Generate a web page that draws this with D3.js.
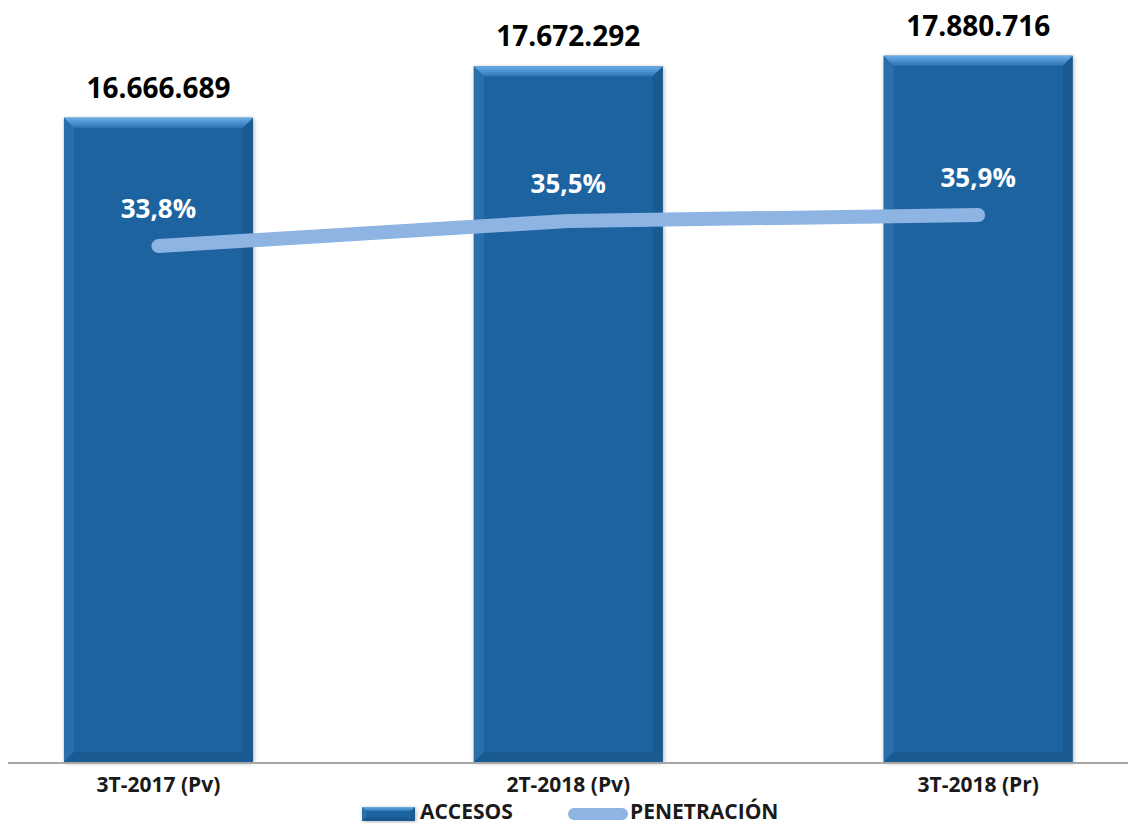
<!DOCTYPE html>
<html>
<head>
<meta charset="utf-8">
<script src="https://cdn.jsdelivr.net/npm/d3@7"></script>
<style>
    body { margin: 0; background: #ffffff; }
    svg { display: block; font-family: 'Open Sans', sans-serif; font-weight: 700; }
</style>
</head>
<body>
<svg width="1128" height="825"></svg>
<script>
const CATEGORIES = ['3T-2017 (Pv)', '2T-2018 (Pv)', '3T-2018 (Pr)'];
const ACCESOS = [16666689, 17672292, 17880716];
const PENETRACION = [33.8, 35.5, 35.9];
const ACCESOS_LABELS = ['16.666.689', '17.672.292', '17.880.716'];
const PENETRACION_LABELS = ['33,8%', '35,5%', '35,9%'];
const SERIES_NAMES = ['ACCESOS', 'PENETRACIÓN'];

const BASELINE = 762;
const BEVEL = 10;

const svg = d3.select('svg');

const defs = svg.append('defs');
const topGrad = defs.append('linearGradient')
    .attr('id', 'bevelTop')
    .attr('x1', 0).attr('y1', 0).attr('x2', 0).attr('y2', 1);
topGrad.append('stop').attr('offset', '0%').attr('stop-color', '#6aaee6');
topGrad.append('stop').attr('offset', '100%').attr('stop-color', '#2c76b6');

const shadow = defs.append('filter')
    .attr('id', 'shadow')
    .attr('x', '-10%').attr('y', '-10%').attr('width', '120%').attr('height', '120%');
shadow.append('feDropShadow')
    .attr('dx', 1).attr('dy', 1).attr('stdDeviation', 2)
    .attr('flood-color', '#000').attr('flood-opacity', 0.3);

const xScale = d3.scaleBand()
    .domain(CATEGORIES)
    .range([-46.7, 1183.3])
    .paddingInner(0.539)
    .paddingOuter(0.27);

const yScale = d3.scaleLinear().domain([4050000, 18970000]).range([BASELINE, 0]);
const y2Scale = d3.scaleLinear().domain([-1.16, 50.47]).range([BASELINE, 0]);

const data = CATEGORIES.map((c, i) => ({
    cat: c,
    value: ACCESOS[i],
    pct: PENETRACION[i],
    label: ACCESOS_LABELS[i],
    pctLabel: PENETRACION_LABELS[i]
}));

function bevelBar(g, x, y, w, h, b) {
    g.append('rect')
        .attr('x', x).attr('y', y).attr('width', w).attr('height', h)
        .attr('fill', '#1f64a0')
        .attr('filter', 'url(#shadow)');
    // left edge
    g.append('polygon')
        .attr('points', [[x, y], [x + b, y + b], [x + b, y + h - b], [x, y + h]].join(' '))
        .attr('fill', '#2a6fac');
    // right edge
    g.append('polygon')
        .attr('points', [[x + w, y], [x + w - b, y + b], [x + w - b, y + h - b], [x + w, y + h]].join(' '))
        .attr('fill', '#1b5a90');
    // bottom edge
    g.append('polygon')
        .attr('points', [[x, y + h], [x + b, y + h - b], [x + w - b, y + h - b], [x + w, y + h]].join(' '))
        .attr('fill', '#1a5a92');
    // top edge
    g.append('polygon')
        .attr('points', [[x, y], [x + w, y], [x + w - b, y + b], [x + b, y + b]].join(' '))
        .attr('fill', 'url(#bevelTop)');
}

const bars = svg.append('g');
data.forEach(d => {
    const g = bars.append('g').classed('bar', true);
    bevelBar(g, xScale(d.cat), yScale(d.value), xScale.bandwidth(), BASELINE - yScale(d.value), BEVEL);
});

// axis line
svg.append('line')
    .attr('x1', 8).attr('x2', 1128)
    .attr('y1', BASELINE + 1).attr('y2', BASELINE + 1)
    .attr('stroke', '#a6a6a6')
    .attr('stroke-width', 2);

// category labels
const axis = svg.append('g')
    .attr('transform', `translate(0, ${BASELINE})`)
    .call(d3.axisBottom(xScale).tickSize(0).tickPadding(30));
axis.select('.domain').remove();
axis.selectAll('text')
    .attr('font-family', 'Open Sans, sans-serif')
    .attr('font-weight', 700)
    .attr('font-size', 21)
    .attr('fill', '#1a1a1a')
    .attr('dy', 0);

// value labels
svg.selectAll('.label')
    .data(data)
    .enter()
    .append('text')
    .classed('label', true)
    .text(d => d.label)
    .attr('x', d => xScale(d.cat) + xScale.bandwidth() / 2)
    .attr('y', d => yScale(d.value) - 20)
    .attr('text-anchor', 'middle')
    .attr('font-size', 28)
    .attr('fill', '#000');

// penetration line
const line = d3.line()
    .x(d => xScale(d.cat) + xScale.bandwidth() / 2)
    .y(d => y2Scale(d.pct));

svg.append('path')
    .datum(data)
    .attr('d', line)
    .attr('fill', 'none')
    .attr('stroke', '#8db4e2')
    .attr('stroke-width', 14)
    .attr('stroke-linecap', 'round');

svg.selectAll('.pct')
    .data(data)
    .enter()
    .append('text')
    .classed('pct', true)
    .text(d => d.pctLabel)
    .attr('x', d => xScale(d.cat) + xScale.bandwidth() / 2)
    .attr('y', d => y2Scale(d.pct) - 28)
    .attr('text-anchor', 'middle')
    .attr('font-size', 26)
    .attr('fill', '#ffffff');

// legend
const legend = svg.append('g');
bevelBar(legend, 362, 807, 53, 14, 4);
legend.append('text')
    .text(SERIES_NAMES[0])
    .attr('x', 420).attr('y', 819)
    .attr('font-size', 21)
    .attr('fill', '#1a1a1a');
legend.append('line')
    .attr('x1', 574).attr('x2', 622)
    .attr('y1', 814).attr('y2', 814)
    .attr('stroke', '#8db4e2')
    .attr('stroke-width', 12)
    .attr('stroke-linecap', 'round');
legend.append('text')
    .text(SERIES_NAMES[1])
    .attr('x', 630).attr('y', 819)
    .attr('font-size', 21)
    .attr('fill', '#1a1a1a');
</script>
</body>
</html>
